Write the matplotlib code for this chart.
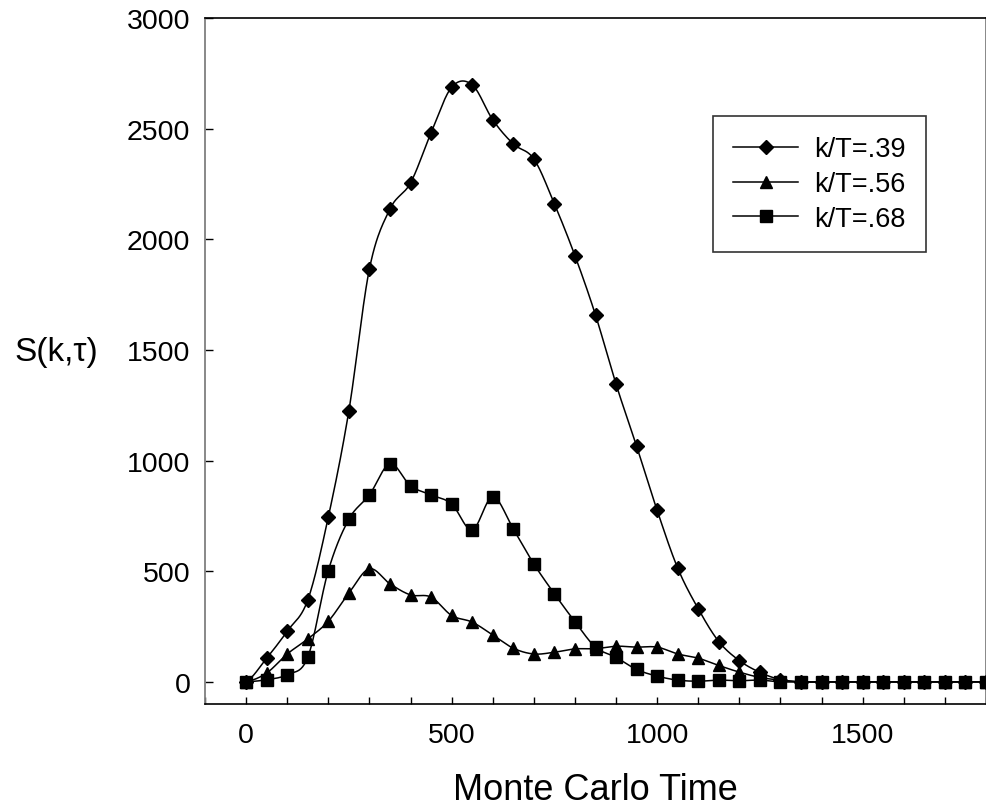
import numpy as np
import matplotlib
matplotlib.use("Agg")
import matplotlib.pyplot as plt
from matplotlib.lines import Line2D
from matplotlib.ticker import MultipleLocator

plt.rcParams['font.family'] = ['Liberation Sans', 'DejaVu Sans']

# ---- data ----
mc_time = list(range(0, 1801, 50))
s_039 = [0, 107, 229, 370, 745, 1225, 1866, 2137, 2255, 2481, 2687, 2698, 2540,
         2431, 2363, 2160, 1926, 1658, 1345, 1065, 775, 514, 330, 182, 96, 43,
         10, 0, 0, 0, 0, 0, 0, 0, 0, 0, 0]
s_056 = [0, 40, 126, 194, 274, 401, 511, 443, 393, 383, 300, 270, 212, 152, 126,
         134, 149, 150, 161, 157, 157, 126, 107, 74, 44, 20, 8, 0, 0, 0, 0, 0,
         0, 0, 0, 0, 0]
s_068 = [0, 10, 33, 111, 503, 735, 845, 985, 886, 845, 804, 687, 836, 691, 533,
         398, 272, 157, 111, 56, 26, 8, 3, 8, 5, 8, 0, 0, 0, 0, 0, 0, 0, 0, 0,
         0, 0]
labels = ['k/T=.39', 'k/T=.56', 'k/T=.68']
markers = ['D', '^', 's']
msizes = [7.6, 8.8, 8.2]


def smooth(x, y, n=24):
    """Catmull-Rom spline through the points (Excel-style smoothed line)."""
    x = np.asarray(x, float)
    y = np.asarray(y, float)
    px = np.concatenate([[2 * x[0] - x[1]], x, [2 * x[-1] - x[-2]]])
    py = np.concatenate([[y[0]], y, [y[-1]]])
    t = np.linspace(0, 1, n, endpoint=False)
    xs, ys = [], []
    for i in range(1, len(px) - 2):
        for arr, out in ((px, xs), (py, ys)):
            p0, p1, p2, p3 = arr[i - 1], arr[i], arr[i + 1], arr[i + 2]
            out.append(0.5 * ((2 * p1) + (-p0 + p2) * t
                              + (2 * p0 - 5 * p1 + 4 * p2 - p3) * t ** 2
                              + (-p0 + 3 * p1 - 3 * p2 + p3) * t ** 3))
    xs.append([x[-1]])
    ys.append([y[-1]])
    return np.concatenate(xs), np.concatenate(ys)


W, H = 986, 812
fig = plt.figure(figsize=(W / 100, H / 100), dpi=100)
ax = fig.add_axes([205 / W, 107 / H, 781 / W, 686 / H])

handles = []
for ys, lab, mk, ms in zip([s_039, s_056, s_068], labels, markers, msizes):
    sx, sy = smooth(mc_time, ys)
    ax.plot(sx, sy, color='black', lw=1.1, zorder=2)
    ax.plot(mc_time, ys, ls='none', marker=mk, ms=ms, color='black', zorder=3)
    handles.append(Line2D([], [], color='black', lw=1.1, marker=mk, ms=ms))

ax.set_xlim(-100, 1800)
ax.set_ylim(-100, 3000)
ax.xaxis.set_major_locator(MultipleLocator(500))
ax.xaxis.set_minor_locator(MultipleLocator(100))
ax.yaxis.set_major_locator(MultipleLocator(500))
ax.tick_params(axis='both', which='both', direction='in', length=7.5 * 0.72,
               width=1.0, color='black')
ax.tick_params(axis='x', which='major', labelsize=20.5, pad=13.0)
ax.tick_params(axis='y', which='major', labelsize=20.5, pad=10.5)

for side in ['left', 'right']:
    ax.spines[side].set_color('#7f7f7f')
    ax.spines[side].set_linewidth(1.3)
for side in ['top', 'bottom']:
    ax.spines[side].set_color('black')
    ax.spines[side].set_linewidth(1.2)

ax.set_xlabel('Monte Carlo Time', fontsize=26, va='top')
ax.xaxis.set_label_coords(0.5, (705 - 773) / 686)
ax.set_ylabel('S(k,\u03c4)', fontsize=24, rotation=0, ha='center', va='center')
ax.yaxis.set_label_coords((56.5 - 205) / 781, (705 - 353) / 686)

leg = ax.legend(handles, labels, loc='upper left',
                bbox_to_anchor=(713 / W, (H - 117) / H),
                bbox_transform=fig.transFigure, borderaxespad=0,
                fontsize=19.5, numpoints=1, handlelength=2.4,
                handletextpad=0.6, borderpad=0.75, labelspacing=0.32,
                fancybox=False, framealpha=1, edgecolor='#333333')
leg.get_frame().set_linewidth(1.2)

fig.savefig('out.png', dpi=100)
